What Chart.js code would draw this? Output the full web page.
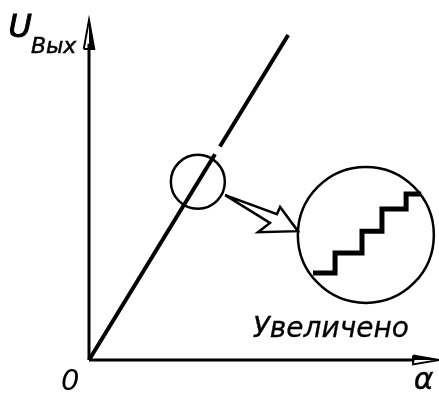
<!DOCTYPE html>
<html>
<head>
<meta charset="utf-8">
<script src="https://cdn.jsdelivr.net/npm/chart.js@4/dist/chart.umd.min.js"></script>
<style>
  html, body { margin: 0; padding: 0; background: #fff; }
  #wrap { width: 439px; height: 395px; }
</style>
</head>
<body>
<div id="wrap"><canvas id="GraficoEscalera"></canvas></div>
<script>
// data (units: x = alpha, y = U out)
var lineLowX = [0, 3.6];
var lineLowY = [0, 6.05];
var lineHighX = [3.74, 5.69];
var lineHighY = [6.28, 9.56];

var stairX = [6.4, 7.03, 7.03, 7.8, 7.8, 8.37, 8.37, 9.06, 9.06, 9.49];
var stairY = [2.56, 2.56, 3.15, 3.15, 3.79, 3.79, 4.44, 4.44, 4.88, 4.88];

var lensX = [3.11];
var lensY = [5.24];
var zoomX = [7.91];
var zoomY = [3.68];

var pointerX = [3.89, 5.37, 5.46, 5.97, 4.83, 5.17, 3.89];
var pointerY = [4.85, 4.29, 4.5, 3.79, 3.76, 4.03, 4.85];

var axisXX = [0, 9.3];
var axisXY = [0, 0];
var axisYX = [0, 0];
var axisYY = [0, 9.3];
var headXX = [9.26, 10, 9.26, 9.26];
var headXY = [0.13, 0, -0.13, 0.13];
var headYX = [-0.15, 0, 0.15, -0.15];
var headYY = [9.15, 10, 9.15, 9.15];

var textLabels = ['U', 'Вых', '0', 'α', 'Увеличено'];

function pts(xs, ys) {
  return xs.map(function (x, i) { return { x: x, y: ys[i] }; });
}

function seg(xs, ys, w) {
  return {
    data: pts(xs, ys), showLine: true, borderColor: '#000', borderWidth: w,
    pointRadius: 0, fill: false, clip: false, tension: 0
  };
}

function shape(xs, ys, w, bg, fill) {
  return {
    data: pts(xs, ys), showLine: true, borderColor: '#000', borderWidth: w,
    backgroundColor: bg, pointRadius: 0, fill: fill, clip: false, tension: 0,
    borderJoinStyle: 'miter'
  };
}

function ring(xs, ys, r) {
  return {
    data: pts(xs, ys), showLine: false, pointRadius: r, pointBorderWidth: 2.5,
    pointBorderColor: '#000', pointBackgroundColor: 'rgba(0,0,0,0)', clip: false
  };
}

// texto con trazo un poco grueso, como el dibujo original
function escribe(c, txt, font, px, py, w) {
  c.font = font;
  c.lineWidth = w;
  c.fillText(txt, px, py);
  if (w > 0) c.strokeText(txt, px, py);
}

var textPlugin = {
  id: 'textos',
  afterDatasetsDraw: function (chart) {
    var c = chart.ctx;
    var sx = chart.scales.x, sy = chart.scales.y;
    c.save();
    c.fillStyle = '#000';
    c.strokeStyle = '#000';
    c.textBaseline = 'alphabetic';
    escribe(c, textLabels[0], 'italic 32px "DejaVu Sans"', sx.getPixelForValue(-2.3), sy.getPixelForValue(9.5), 1);
    escribe(c, textLabels[1], 'italic 22px "DejaVu Sans"', sx.getPixelForValue(-1.66), sy.getPixelForValue(9.03), 0.5);
    escribe(c, textLabels[2], 'italic 29px "DejaVu Sans"', sx.getPixelForValue(-0.8), sy.getPixelForValue(-0.88), 0);
    escribe(c, textLabels[3], 'italic 30px "DejaVu Sans"', sx.getPixelForValue(9.28), sy.getPixelForValue(-0.86), 0.4);
    escribe(c, textLabels[4], 'italic 28px "DejaVu Sans"', sx.getPixelForValue(4.68), sy.getPixelForValue(0.68), 0.3);
    c.restore();
  }
};

var ctx = document.getElementById('GraficoEscalera').getContext('2d');
var grafico = new Chart(ctx, {
  type: 'scatter',
  data: {
    datasets: [
      seg(axisXX, axisXY, 3),
      seg(axisYX, axisYY, 3),
      shape(headXX, headXY, 2, '#000', 'shape'),
      shape(headYX, headYY, 2, '#000', 'shape'),
      seg(lineLowX, lineLowY, 4),
      seg(lineHighX, lineHighY, 4),
      ring(lensX, lensY, 27),
      ring(zoomX, zoomY, 68),
      seg(stairX, stairY, 5),
      shape(pointerX, pointerY, 2.5, '#fff', 'shape')
    ]
  },
  options: {
    responsive: true,
    maintainAspectRatio: false,
    animation: false,
    events: [],
    layout: { autoPadding: false, padding: { left: 89, right: 0, top: 20, bottom: 35 } },
    plugins: { legend: { display: false }, tooltip: { enabled: false } },
    scales: {
      x: { type: 'linear', min: 0, max: 10, display: false },
      y: { type: 'linear', min: 0, max: 10, display: false }
    }
  },
  plugins: [textPlugin]
});
</script>
</body>
</html>
